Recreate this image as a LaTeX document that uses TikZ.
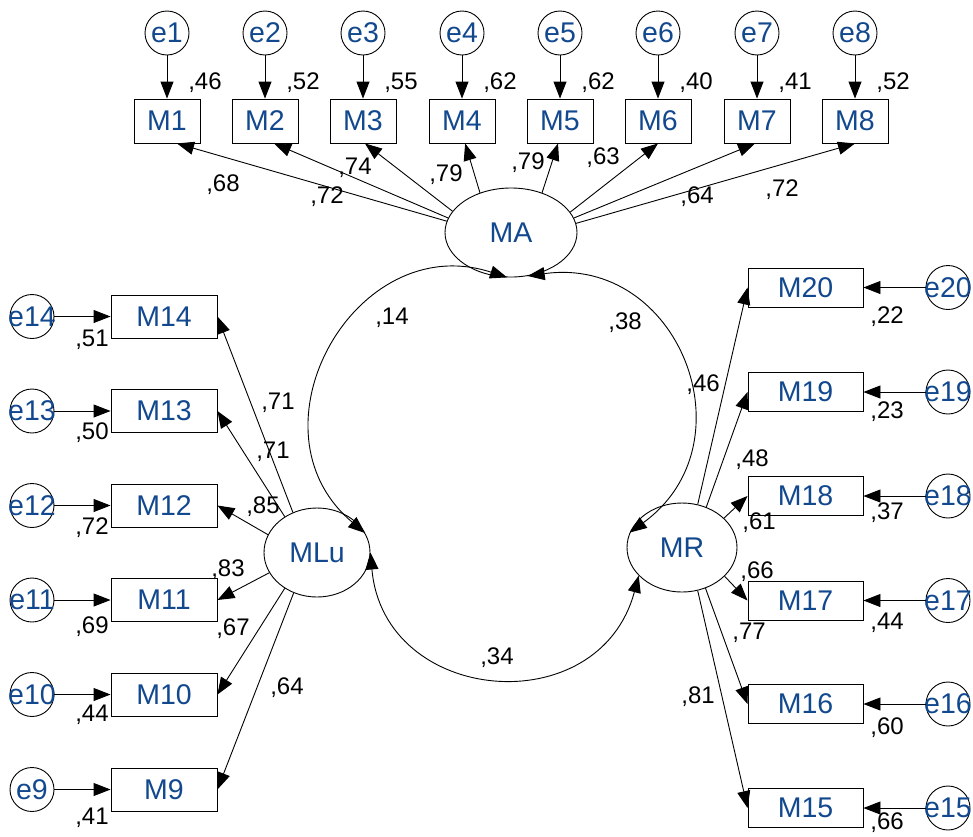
\documentclass[tikz,border=0pt]{standalone}
\usepackage{fontspec}
\setmainfont{Liberation Sans}
\usetikzlibrary{arrows.meta,shapes.geometric}
\definecolor{varblue}{RGB}{18,72,142}
\begin{document}
\begin{tikzpicture}[x=1pt,y=1pt,line width=0.9pt,
  >={Triangle[length=17pt,width=13pt]},
  vname/.style={font=\fontsize{28.5}{32}\selectfont, text=varblue},
  obsbox/.style={vname, draw, rectangle, inner sep=0pt},
  topbox/.style={obsbox, minimum width=66pt, minimum height=44pt},
  leftbox/.style={obsbox, minimum width=106pt, minimum height=43pt},
  rightbox/.style={obsbox, minimum width=115pt, minimum height=39pt},
  latent/.style={vname, draw, ellipse, inner sep=0pt, minimum height=89pt},
  errc/.style={draw, circle, minimum size=44pt, inner sep=0pt},
  errtxt/.style={vname, inner sep=0pt},
  coef/.style={font=\fontsize{24}{28}\selectfont, inner sep=0pt}]
\useasboundingbox (0,0) rectangle (973,-836);

% latent factors
\node[latent, minimum width=132pt] (MA)  at (511,-232.5) {MA};
\node[latent, minimum width=106pt] (MLu) at (317,-552.5) {MLu};
\node[latent, minimum width=110pt] (MR)  at (682,-547.5) {MR};

% top indicators M1--M8 with their errors
\foreach \i/\x/\r in {1/167/46,2/265/52,3/363/55,4/462/62,5/560/62,6/658/40,7/757/41,8/855/52}{
  \node[errc, label={[errtxt]center:e\i}] (e\i) at (\x,-33) {};
  \node[topbox] (M\i) at (\x,-121) {M\i};
  \draw[->] (e\i) -- (M\i);
  \node[coef] at (\x+38,-83) {,\r};
}

% left indicators M9--M14
\foreach \i/\y/\ly/\r in {14/316.5/340/51,13/411/433/50,12/505.5/528/72,11/600/627/69,10/694.5/715/44,9/789.5/818/41}{
  \node[errc, label={[errtxt]center:e\i}] (e\i) at (32,-\y) {};
  \node[leftbox] (M\i) at (164,-\y) {M\i};
  \draw[->] (e\i) -- (M\i);
  \node[coef] at (92,-\ly) {,\r};
}

% right indicators M15--M20
\foreach \i/\y/\ly/\r in {20/287.5/317/22,19/392/412/23,18/496/513/37,17/600.5/623/44,16/704/728/60,15/808/823/66}{
  \node[errc, label={[errtxt]center:e\i}] (e\i) at (948,-\y) {};
  \node[rightbox] (M\i) at (805.5,-\y) {M\i};
  \draw[->] (e\i) -- (M\i);
  \node[coef] at (887,-\ly) {,\r};
}

% loadings
\foreach \i/\a/\b in {1/170/294,2/167/292,3/160/275,4/128/278,5/52/265,6/19/270,7/13/265,8/8/270}
  \draw[->] (MA.\a) -- (M\i.\b);
\foreach \i/\a in {14/121,13/132,12/160,11/203,10/228,9/240}
  \draw[->] (MLu.\a) -- (M\i.east);
\foreach \i/\a in {20/70,19/59,18/35,17/326,16/300,15/290}
  \draw[->] (MR.\a) -- (M\i.west);

% covariances
\draw[<->] (MA.265) to[out=162, in=140, looseness=1.40] (MLu.22);
\draw[<->] (MA.291) to[out=8, in=36, looseness=1.41] (MR.164);
\draw[<->] (MLu.east) to[out=275, in=255, looseness=1.46] (MR.213);

% loading estimates
\foreach \x/\y/\t in {223/185/68,327/197/72,355/168/74,446/175/79,528/163/79,603/158/63,697/197/64,782/190/72,
                      278/403/71,273/452/71,263/507/85,228/570/83,233/629/67,287/688/64,
                      703/385/46,752/460/48,759/523/61,757/572/66,749/633/77,698/697/81,
                      392/318/14,625/323/38,497/658/34}
  \node[coef] at (\x,-\y) {,\t};
\end{tikzpicture}
\end{document}
